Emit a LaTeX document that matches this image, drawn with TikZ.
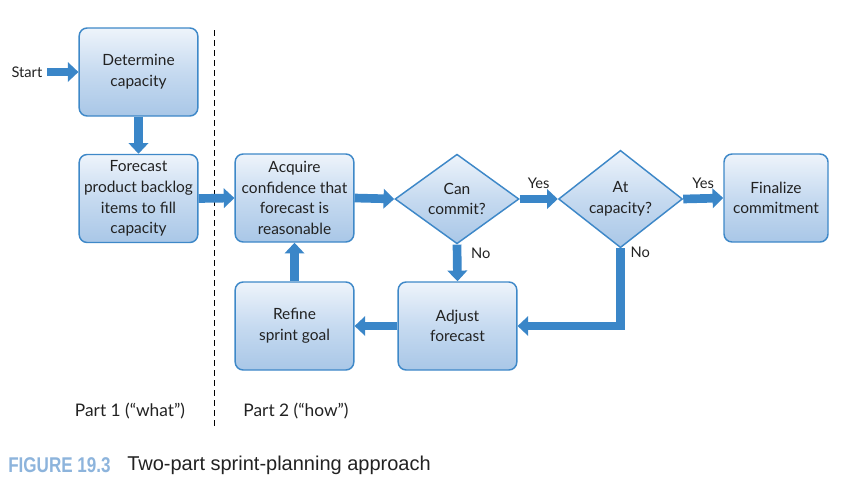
\documentclass[tikz,border=0pt]{standalone}
\usepackage{fontspec}
\setmainfont{Lato}
\newfontfamily\capfont{Liberation Sans}
\newfontfamily\figfont[FakeStretch=0.8]{Liberation Sans}
\usetikzlibrary{shapes.geometric,arrows.meta}
\definecolor{arrowblue}{HTML}{3A86C8}
\definecolor{edgeblue}{HTML}{3E88C8}
\definecolor{boxtop}{HTML}{EEF4FB}
\definecolor{boxmid}{HTML}{C6DAF0}
\definecolor{boxbot}{HTML}{A9C7E7}
\definecolor{figblue}{HTML}{8DB4DC}
\definecolor{txt}{HTML}{222222}
\begin{document}
\begin{tikzpicture}[x=0.75pt,y=-0.75pt,
  every node/.style={text=txt,font=\fontsize{11.6}{15.5}\selectfont},
  stepbox/.style={draw=edgeblue,line width=1.1pt,rounded corners=6pt,
    top color=boxtop,bottom color=boxbot,middle color=boxmid,
    minimum width=89pt,minimum height=66pt,align=center,inner sep=2pt},
  decide/.style={diamond,draw=edgeblue,line width=1.1pt,
    top color=boxtop,bottom color=boxbot,middle color=boxmid,
    minimum width=93pt,minimum height=66pt,align=center,inner sep=0pt},
  flow/.style={draw=arrowblue,line width=6.5pt,
    -{Triangle[width=14.5pt,length=8pt]}},
  lbl/.style={font=\fontsize{11}{13}\selectfont},
  partlbl/.style={font=\fontsize{13}{15}\selectfont}]
\useasboundingbox (0,0) rectangle (846,486);
\draw[black,line width=0.5pt,dash pattern=on 4.5pt off 3pt] (214,30) -- (214,430);
\node[stepbox] (det) at (138.5,72) {Determine\\capacity};
\node[stepbox] (fore) at (138.5,198.5) {Forecast\\product backlog\\items to fill\\capacity};
\node[stepbox] (acq) at (294.5,198) {Acquire\\confidence that\\forecast is\\reasonable};
\node[decide] (can) at (457,199) {Can\\commit?};
\node[decide] (atc) at (620.5,199) {At\\capacity?};
\node[stepbox,minimum width=78pt] (fin) at (776,198) {Finalize\\commitment};
\node[stepbox] (ref) at (294.5,326) {Refine\\sprint goal};
\node[stepbox] (adj) at (457.5,326) {Adjust\\forecast};
\node[lbl,anchor=east] (start) at (47,72) {Start};
\draw[flow] (start.east) -- (det.west);
\draw[flow] (det.south) -- (fore.north);
\draw[flow] (fore.east) -- (acq.west);
\draw[flow] (acq.east) -- (can.west);
\draw[flow] (can.east) -- node[lbl,above=1pt] (y1) {Yes} (atc.west);
\draw[flow] (atc.east) -- node[lbl,above=1pt] (y2) {Yes} (fin.west);
\draw[flow] (can.south) -- node[lbl,right=4pt,pos=0.25] (n1) {No} (adj.north);
\draw[flow,line cap=butt] (atc.south) -- (620.5,326) -- (adj.east);
\node[lbl,right=4pt] (n2) at (620.5,252) {No};
\draw[flow] (adj.west) -- (ref.east);
\draw[flow] (ref.north) -- (acq.south);
\node[partlbl] (p1) at (130,411) {Part 1 (“what”)};
\node[partlbl] (p2) at (296,411) {Part 2 (“how”)};
\node[anchor=west,inner sep=0pt,text=figblue,font=\figfont\bfseries\fontsize{16}{18}\selectfont] (fig) at (8,465) {FIGURE 19.3};
\node[anchor=west,inner sep=0pt,font=\capfont\fontsize{15}{17}\selectfont] (cap) at (127,465) {Two-part sprint-planning approach};
\end{tikzpicture}
\end{document}
